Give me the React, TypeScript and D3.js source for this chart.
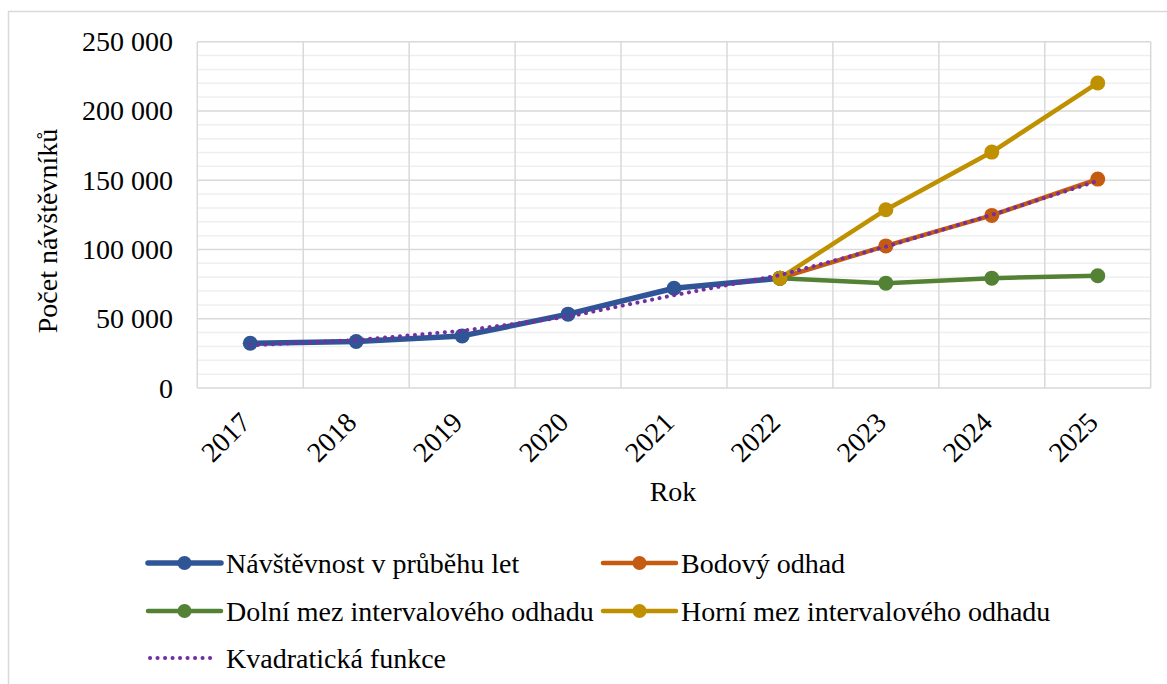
import React from "react";
import * as d3 from "d3";

// roky na ose x
const years = ["2017", "2018", "2019", "2020", "2021", "2022", "2023", "2024", "2025"];

// návštěvnost 2017-2022
const visits = [32300, 33600, 37600, 53300, 72000, 79300];
// odhady 2022-2025
const pointEst = [79300, 102600, 124600, 150800];
const lowerEst = [79300, 75700, 79300, 81000];
const upperEst = [79300, 128700, 170300, 220200];
// kvadratická funkce 2017-2025
const quadratic = [30800, 34600, 41300, 51500, 67000, 81500, 102000, 125000, 149500];

const yTicks = [0, 50000, 100000, 150000, 200000, 250000];
const yMinor = d3.range(0, 250001, 10000);

const W = 1167;
const H = 684;

const czFmt = d3.formatLocale({ decimal: ",", thousands: " ", grouping: [3], currency: ["", ""] }).format(",");

export default function App() {
  const left = 197.3, right = 1150.7, top = 41.7, bottom = 388;

  const x = d3.scaleBand().domain(years).range([left, right]).padding(0);
  const cx = (yr: string) => (x(yr) as number) + x.bandwidth() / 2;
  const y = d3.scaleLinear().domain([0, 250000]).range([bottom, top]);

  const series = [
    { name: "Návštěvnost v průběhu let", color: "#2F5597", vals: visits, yrs: years.slice(0, 6), w: 5.5 },
    { name: "Bodový odhad", color: "#C55A11", vals: pointEst, yrs: years.slice(5), w: 4.5 },
    { name: "Dolní mez intervalového odhadu", color: "#548235", vals: lowerEst, yrs: years.slice(5), w: 4.5 },
    { name: "Horní mez intervalového odhadu", color: "#BF9000", vals: upperEst, yrs: years.slice(5), w: 4.5 },
  ];

  const purple = "#7030A0";
  const dotted = { strokeDasharray: "0.1 7.4", strokeLinecap: "round" as const };
  const txt = { fontFamily: `"Liberation Serif"`, fontSize: 28, fill: "#000" };

  const line = d3
    .line<[string, number]>()
    .x((d) => cx(d[0]))
    .y((d) => y(d[1]));

  // legenda: pozice položek
  const legend = [
    { s: series[0], lx: 148, row: 0 },
    { s: series[1], lx: 603, row: 0 },
    { s: series[2], lx: 148, row: 1 },
    { s: series[3], lx: 603, row: 1 },
  ];
  const rowY = [563, 611, 658];

  return (
    <div style={{ position: "absolute", left: 0, top: 0 }}>
      <svg width={W} height={H} style={{ display: "block", background: "#fff" }}>
        <rect x={8.5} y={11.5} width={1300} height={800} fill="#fff" stroke="#d9d9d9" strokeWidth={1.5} />

        {/* mřížka */}
        {yMinor.filter((v) => v % 50000 !== 0).map((v) => (
          <line key={"m" + v} x1={left} x2={right} y1={y(v)} y2={y(v)} stroke="#efefef" strokeWidth={1.5} />
        ))}
        {yTicks.map((v) => (
          <line key={"g" + v} x1={left} x2={right} y1={y(v)} y2={y(v)} stroke="#d9d9d9" strokeWidth={1.5} />
        ))}
        {[...years.map((yr) => x(yr) as number), right].map((xx, i) => (
          <line key={"v" + i} x1={xx} x2={xx} y1={top} y2={bottom} stroke="#d9d9d9" strokeWidth={1.5} />
        ))}

        {/* osa y */}
        {yTicks.map((v) => (
          <text key={"t" + v} x={173} y={y(v) + 9.5} textAnchor="end" style={txt}>
            {czFmt(v)}
          </text>
        ))}
        <text transform={`translate(57,231) rotate(-90)`} textAnchor="middle" style={txt}>
          Počet návštěvníků
        </text>

        {/* osa x */}
        {years.map((yr) => (
          <text key={yr} transform={`translate(${cx(yr) + 2},424) rotate(-45)`} textAnchor="end" style={txt}>
            {yr}
          </text>
        ))}
        <text x={673} y={501} textAnchor="middle" style={txt}>
          Rok
        </text>

        {/* řady */}
        {series.map((s) => {
          const pts = s.yrs.map((yr, i) => [yr, s.vals[i]] as [string, number]);
          return (
            <g key={s.name}>
              <path d={line(pts) || ""} fill="none" stroke={s.color} strokeWidth={s.w} strokeLinejoin="round" />
              {pts.map((p) => (
                <circle key={p[0]} cx={cx(p[0])} cy={y(p[1])} r={7.5} fill={s.color} />
              ))}
            </g>
          );
        })}
        <path
          d={line(years.map((yr, i) => [yr, quadratic[i]] as [string, number])) || ""}
          fill="none"
          stroke={purple}
          strokeWidth={4}
          {...dotted}
        />

        {/* legenda */}
        {legend.map(({ s, lx, row }) => (
          <g key={"l" + s.name}>
            <line x1={lx} x2={lx + 73} y1={rowY[row]} y2={rowY[row]} stroke={s.color} strokeWidth={s.w} strokeLinecap="round" />
            <circle cx={lx + 36.5} cy={rowY[row]} r={7} fill={s.color} />
            <text x={lx + 78} y={rowY[row] + 9.5} style={txt}>
              {s.name}
            </text>
          </g>
        ))}
        <line x1={150} x2={212} y1={rowY[2]} y2={rowY[2]} stroke={purple} strokeWidth={4} {...dotted} />
        <text x={226} y={rowY[2] + 9.5} style={txt}>
          Kvadratická funkce
        </text>
      </svg>
    </div>
  );
}
